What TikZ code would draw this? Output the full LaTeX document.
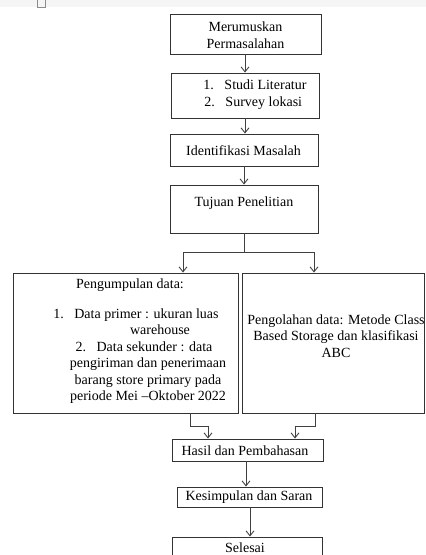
\documentclass[tikz,border=0pt]{standalone}
\usepackage{fontspec}
\setmainfont{Liberation Serif}
\usepackage{tikz}
\usetikzlibrary{positioning, arrows.meta}

\begin{document}
\begin{tikzpicture}[x=1pt,y=1pt,>={Straight Barb[length=5pt,width=8pt]}]
	\tikzstyle{box}=[rectangle,draw=black!80,line width=0.9pt,inner sep=0pt]
	\tikzstyle{txt}=[align=center,font=\fontsize{14}{16.5}\selectfont,inner sep=0pt]
	\tikzstyle{line}=[draw=black!75,line width=0.9pt]
	\tikzstyle{flow}=[line,->]
	\useasboundingbox (0,0) rectangle (426,-555);
	% strip at the top
	\fill[black!4] (0,0) rectangle (426,-7);
	\draw[black!45,line width=0.6pt] (37,0) -- (37,-7) -- (45,-7) -- (45,0);
	% boxes
	\node[box,minimum width=151,minimum height=40](b1) at (245.5,-34){};
	\node[box,minimum width=148,minimum height=45](b2) at (245,-95.5){};
	\node[box,minimum width=148,minimum height=32](b3) at (244,-150){};
	\node[box,minimum width=148,minimum height=48](b4) at (244,-209){};
	\node[box,minimum width=225,minimum height=140](b5) at (125.5,-343){};
	\node[box,minimum width=182,minimum height=140](b6) at (333,-343){};
	\node[box,minimum width=151,minimum height=22](b7) at (247.5,-450){};
	\node[box,minimum width=145,minimum height=20](b8) at (249.5,-497){};
	\node[box,minimum width=150,minimum height=40](b9) at (247,-557){};
	% texts
	\node[txt](t1) at (245.5,-35){Merumuskan\\Permasalahan};
	\node[txt,align=left](t2) at (255,-94.5){1.\enspace\ Studi Literatur\\\hspace*{1pt}2.\enspace\ Survey lokasi};
	\node[txt](t3) at (243.5,-151){Identifikasi Masalah};
	\node[txt](t4) at (244,-203){Tujuan Penelitian};
	\node[txt](t5a) at (130,-285.5){Pengumpulan data:};
	\node[txt](t5b) at (148,-356){\hspace*{-24pt}1.\enspace\ Data primer : ukuran luas\\
		\hspace*{24pt}warehouse\\
		\hspace*{-8pt}2.\enspace\ Data sekunder : data\\
		pengiriman dan penerimaan\\
		barang store primary pada\\
		periode Mei –Oktober 2022};
	\node[txt](t6) at (336,-336){Pengolahan data: Metode Class\\Based Storage dan klasifikasi\\ABC};
	\node[txt](t7) at (245,-450.5){Hasil dan Pembahasan};
	\node[txt](t8) at (249,-497){Kesimpulan dan Saran};
	\node[txt](t9) at (245,-548){Selesai};
	% junctions
	\coordinate (j0) at (244,-252);
	\coordinate (jl) at (183,-252);
	\coordinate (jr) at (314,-252);
	\coordinate (k1) at (190,-426);
	\coordinate (k1b) at (208,-426);
	\coordinate (k2) at (315,-426);
	\coordinate (k2b) at (295,-426);
	\coordinate (m7) at (246,-450);
	\coordinate (m8) at (250,-497);
	% connectors
	\path[line]
		(b1.south -| b2) edge[->] node {}(b2.north)
		(b2.south) edge[->] node {}(b3.north -| b2)
		(b3.south) edge[->] node {}(b4.north)
		(jl) edge[->] node {}(b5.north -| jl)
		(jr) edge[->] node {}(b6.north -| jr)
		(b7.south -| m7) edge[->] node {}(b8.north -| m7)
		(b8.south -| m8) edge[->] node {}(b9.north -| m8);
	\draw[line] (b4.south) -- (j0);
	\draw[line] (jl) -- (jr);
	\draw[flow] (b5.south -| k1) -- (k1) -- (k1b) -- (b7.north -| k1b);
	\draw[flow] (b6.south -| k2) -- (k2) -- (k2b) -- (b7.north -| k2b);
\end{tikzpicture}
\end{document}
